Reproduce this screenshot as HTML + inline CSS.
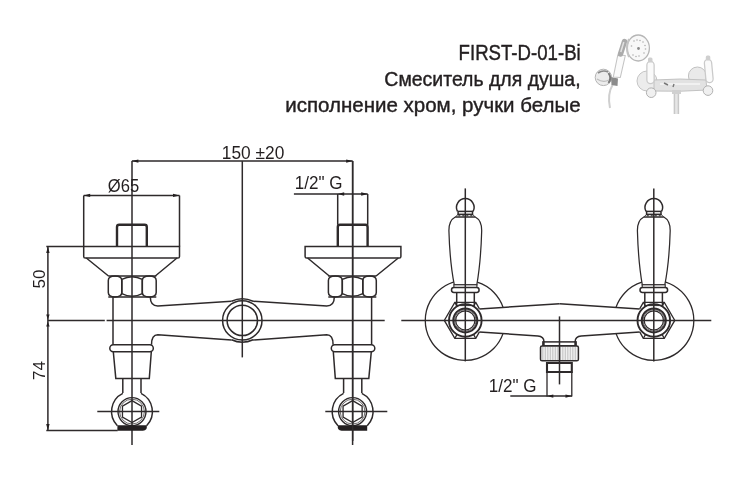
<!DOCTYPE html>
<html><head><meta charset="utf-8">
<style>
html,body{margin:0;padding:0;background:#fff;width:750px;height:500px;overflow:hidden}
svg{display:block;will-change:transform}
text{font-family:"Liberation Sans",sans-serif;fill:#231f20}
</style></head>
<body>
<svg width="750" height="500" viewBox="0 0 750 500">
<defs>
<filter id="blur" x="-10%" y="-10%" width="120%" height="120%"><feGaussianBlur stdDeviation="0.6"/></filter>
<g id="tapL">
 <path d="M116.7,246 V226.6 Q116.7,224.4 118.9,224.4 H144.3 Q146.5,224.4 146.5,226.6 V246" stroke-width="2.4"/>
 <path d="M83.4,246 H179.2 V256 Q179.2,257.6 177.6,257.6 H85 Q83.4,257.6 83.4,256 Z"/>
 <path d="M86,257.6 L108.2,275.6 M176.7,257.6 L155,275.6"/>
 <path d="M108,275.6 H156 M108,296.6 H156"/>
 <path d="M108,280 Q108,275.6 114.7,275.6 Q121.5,275.6 121.5,280 V292.2 Q121.5,296.6 114.7,296.6 Q108,296.6 108,292.2 Z"/>
 <path d="M121.5,279 Q131.8,273.8 142,279 V293.2 Q131.8,298.4 121.5,293.2 Z"/>
 <path d="M142,280 Q142,275.6 149,275.6 Q155.9,275.6 155.9,280 V292.2 Q155.9,296.6 149,296.6 Q142,296.6 142,292.2 Z"/>
 <path d="M112.7,296.6 V344.3"/>
 <path d="M150,296.6 Q150,305.5 157.5,305.5 L231.2,300.8"/>
 <path d="M151.2,344.3 Q151.2,334.4 157.5,334.4 L231.2,339.6"/>
 <rect x="109.5" y="344.3" width="43.5" height="7.1" rx="3.5"/>
 <path d="M113,351.4 L115.5,378 H149 L151,351.4"/>
 <path d="M122.5,378 V392.6 M140.7,378 V392.6"/>
 <path d="M122.5,392.9 A20.3,20.3 0 0 0 117.1,425.3 M146.3,425.3 A20.3,20.3 0 0 0 140.7,392.9"/>
 <circle cx="131.7" cy="411.2" r="14" stroke-width="1.4"/>
 <circle cx="131.7" cy="411.2" r="12.4" stroke-width="0.7"/>
 <path d="M131.70,400.20 L141.23,405.70 L141.23,416.70 L131.70,422.20 L122.17,416.70 L122.17,405.70 Z" stroke-width="1.3"/>
 <path d="M97,411.2 H159 M131.7,160.7 V444.5"/>
 <path d="M117.1,424.8 H146.5 V427.5 Q146,430.4 140,430.4 H117.1 Z" fill="#231f20" stroke="none"/>
</g>
<g id="handleL">
 <path d="M502.8,307 A40,40 0 1 0 502.8,333" stroke-width="1.3"/>
 <path d="M457.2,211 A8.8,8.8 0 1 1 472.8,211"/>
 <rect x="457.8" y="211" width="14.4" height="3"/>
 <path d="M457.8,214 H472.2 L475,216.6 H455 Z" stroke-width="0.9"/>
 <path d="M458,215.3 h2 M462,215.3 h2 M466,215.3 h2 M470,215.3 h2" stroke-width="1.4" stroke="#555"/>
 <path d="M455,216.6 C450.5,219 448.6,224 448.6,230 Q449.5,262 454,284.4 H476.5 Q480.5,262 481.4,230 C481.4,224 479.5,219 475,216.6 Z" fill="#fff" stroke-width="1.25"/>
 <rect x="453.6" y="284.4" width="23" height="2.8" fill="#fff" stroke-width="1.1"/>
 <rect x="451.2" y="287.2" width="27.6" height="4.8" rx="2.4" fill="#fff"/>
 <path d="M456.4,292 V305.2 M474,292 V305.2"/>
 <path d="M465,188 V361"/>
 <path d="M479.1,308.5 L475.5,302 H454.5 L444,320 L454.5,338 H475.5 L479.1,331.5" stroke-width="1.3"/>
 <path d="M455.5,305.2 H474.5" stroke-width="1"/>
 <circle cx="465" cy="320" r="16.3" stroke-width="1.9"/>
 <path d="M454.8,302.5 L456.8,306 M475.2,302.5 L473.2,306 M454.8,337.5 L456.8,334 M475.2,337.5 L473.2,334" stroke-width="1.2"/>
 <circle cx="465" cy="320" r="12" stroke-width="2"/>
 <circle cx="465" cy="320" r="10.8" stroke-width="0.7"/>
 <circle cx="465" cy="320" r="9.6" stroke-width="1.2"/>
 <path d="M479.1,308.5 L559.25,303.3"/>
 <path d="M479.1,331.5 L537.6,335.6 Q543.7,336 543.7,341.5"/>
</g>
</defs>

<!-- title text -->
<g stroke="#231f20" stroke-width="0.42">
<text transform="translate(580.7,59.6) scale(0.855,1)" font-size="21.8" text-anchor="end">FIRST-D-01-Bi</text>
<text transform="translate(580.6,85.7) scale(0.95,1)" font-size="20.5" text-anchor="end">Смеситель для душа,</text>
<text transform="translate(580.6,111.6) scale(1.0,1)" font-size="20.5" text-anchor="end">исполнение хром, ручки белые</text>
</g>

<!-- photo -->
<g filter="url(#blur)">
 <path d="M613,84 Q607,94 610,108" fill="none" stroke="#cfcfcf" stroke-width="2"/>
 <circle cx="603.4" cy="77.4" r="8.2" fill="#ececec" stroke="#b4b4b4" stroke-width="1"/>
 <path d="M598,73 Q603,69.5 608,72" fill="none" stroke="#8a8a8a" stroke-width="1.6"/>
 <path d="M608.5,73 Q612,78 608.5,83" fill="none" stroke="#7a7a7a" stroke-width="2"/>
 <path d="M597,79 Q603,83 609,80" fill="none" stroke="#bdbdbd" stroke-width="1.2"/>
 <path d="M611,77 L618,78.5 L617.5,86 L611.5,85 Z" fill="#8c8c8c"/>
 <path d="M617.8,55 L625.3,55.5 L620.3,77.5 L613.3,77 Z" fill="#fbfbfb" stroke="#c4c4c4" stroke-width="1.1" stroke-linejoin="round"/>
 <path d="M624.5,41.5 L620.5,54" stroke="#ababab" stroke-width="5.5" stroke-linecap="round"/>
 <path d="M623.8,42 L620.8,52" stroke="#e2e2e2" stroke-width="1.5"/>
 <ellipse cx="638.2" cy="48" rx="11.2" ry="13" fill="#f8f8f8" stroke="#b6b6b6" stroke-width="1.3"/>
 <path d="M629,39 Q625,48 629,57" fill="none" stroke="#c4c4c4" stroke-width="2"/>
 <g fill="#b0b0b0">
  <circle cx="634" cy="41" r="0.8"/><circle cx="637" cy="40" r="0.8"/><circle cx="640" cy="40.5" r="0.8"/><circle cx="643" cy="42" r="0.8"/>
  <circle cx="645" cy="45.5" r="0.8"/><circle cx="645.5" cy="49" r="0.8"/><circle cx="644" cy="53" r="0.8"/>
  <circle cx="633" cy="55" r="0.8"/><circle cx="636" cy="56.5" r="0.8"/><circle cx="639" cy="56" r="0.8"/>
  <circle cx="631.5" cy="46" r="0.8"/>
 </g>
 <circle cx="638.5" cy="48.5" r="1.4" fill="#8a8a8a"/>
 <circle cx="647" cy="81" r="10" fill="#ececec" stroke="#c4c4c4" stroke-width="1"/>
 <circle cx="697.4" cy="76" r="9" fill="#eaeaea" stroke="#c0c0c0" stroke-width="1"/>
 <path d="M654,80 Q680,78 706,80 L707,90 Q680,92 654,91 Z" fill="#e2e2e2" stroke="#bdbdbd" stroke-width="0.9"/>
 <path d="M660,84 H700" stroke="#f6f6f6" stroke-width="1.5"/>
 <path d="M664,83 l4,2 M674,84 l-1,3" stroke="#777" stroke-width="1.4"/>
 <path d="M676.4,93 V114" stroke="#c8c8c8" stroke-width="5.5"/>
 <path d="M676.4,93 V114" stroke="#e6e6e6" stroke-width="2.5"/>
 <rect x="672" y="90" width="9" height="4" fill="#d0d0d0"/>
 <circle cx="651.2" cy="92.7" r="4.8" fill="#f0f0f0" stroke="#b0b0b0" stroke-width="1"/>
 <circle cx="708" cy="90.6" r="4.8" fill="#f0f0f0" stroke="#b0b0b0" stroke-width="1"/>
 <path d="M650.5,65 L650.5,80" stroke="#cacaca" stroke-width="8.5" stroke-linecap="round"/>
 <path d="M650.5,65 L650.5,80" stroke="#fafafa" stroke-width="6" stroke-linecap="round"/>
 <rect x="648" y="57.5" width="4.5" height="5" rx="1.5" fill="#cfcfcf"/>
 <path d="M708,63 L709.5,79" stroke="#cacaca" stroke-width="8.5" stroke-linecap="round"/>
 <path d="M708,63 L709.5,79" stroke="#fafafa" stroke-width="6" stroke-linecap="round"/>
 <rect x="705.8" y="55.5" width="4.5" height="5" rx="1.5" fill="#cfcfcf"/>
</g>

<g transform="translate(0.3,0.4)">
<g fill="none" stroke="#2e2a2b" stroke-width="1.5" stroke-linecap="butt">
 <use href="#tapL"/>
 <use href="#tapL" transform="translate(484,0) scale(-1,1)"/>
 <!-- hub -->
 <circle cx="242" cy="320" r="19.7"/>
 <circle cx="242" cy="320" r="15.2"/>
 <path d="M231.2,300.8 Q242,295.8 252.8,300.8 M231.2,339.4 Q242,344.4 252.8,339.4"/>
 <path d="M242,160.7 V357"/>
 <!-- dims left drawing -->
 <path d="M131.6,160.7 H352.4 M352.4,160.7 V440.5"/>
 <path d="M83.4,195 H179.2 M83.4,195 V246 M179.2,195 V246"/>
 <path d="M293.6,193.6 H367.4 M337.4,193.6 V224.4 M367.4,193.6 V224.4"/>
 <path d="M46,246 H83.4 M47.6,246 V430 M46,430 H117.4"/>
 <path d="M47.6,320 H104.5 M106.3,320 H384.4"/>
 <!-- right drawing -->
 <path d="M401,320 H711"/>
 <use href="#handleL"/>
 <use href="#handleL" transform="translate(1118.5,0) scale(-1,1)"/>
 <rect x="542.7" y="341.5" width="33" height="3.9"/>
 <path d="M543.3,341 V345.5 M575.1,341 V345.5" stroke-width="2.2"/>
 <rect x="540.2" y="345.6" width="37.9" height="14.8" fill="#f0f0f0" stroke="none"/>
 <path d="M542.5,346.5 V359.5 M545.0,346.5 V359.5 M547.5,346.5 V359.5 M550.0,346.5 V359.5 M552.5,346.5 V359.5 M555.0,346.5 V359.5 M557.5,346.5 V359.5 M560.0,346.5 V359.5 M562.5,346.5 V359.5 M565.0,346.5 V359.5 M567.5,346.5 V359.5 M570.0,346.5 V359.5 M572.5,346.5 V359.5 M575.0,346.5 V359.5 " stroke="#c4c4c4" stroke-width="1.1"/>
 <rect x="540.2" y="345.6" width="37.9" height="14.8" rx="1.6"/>
 <path d="M546.7,362.6 H571.5 V371.6 H546.7 Z" stroke-width="2.1"/>
 <path d="M546.7,371 V396 M571.5,371 V396" stroke-width="1.3"/>
 <path d="M559.2,316 V384"/>
 <path d="M510,395.7 H571.7"/>
</g>
<!-- arrowheads -->
<g fill="#231f20">
 <path d="M131.6,160.7 l6.5,-1.7 v3.4 z"/>
 <path d="M352.4,160.7 l-6.5,-1.7 v3.4 z"/>
 <path d="M83.4,195 l6.5,-1.7 v3.4 z"/>
 <path d="M179.2,195 l-6.5,-1.7 v3.4 z"/>
 <path d="M337.4,193.6 l6.5,-1.7 v3.4 z"/>
 <path d="M367.4,193.6 l-6.5,-1.7 v3.4 z"/>
 <path d="M47.6,246 l-1.7,6.5 h3.4 z"/>
 <path d="M47.6,319 l-1.7,-5 h3.4 z"/>
 <path d="M47.6,321 l-1.7,5 h3.4 z"/>
 <path d="M47.6,430 l-1.7,-6.5 h3.4 z"/>
 <path d="M546.5,395.7 l6.5,-1.7 v3.4 z"/>
 <path d="M571.7,395.7 l-6.5,-1.7 v3.4 z"/>
</g>
<!-- dim texts -->
<text transform="translate(221.5,158.6) scale(0.99,1)" font-size="17.5">150 ±20</text>
<text transform="translate(107.5,192) scale(0.95,1)" font-size="17.5">Ø65</text>
<text transform="translate(294.5,188.6) scale(0.975,1)" font-size="17.5">1/2" G</text>
<text transform="translate(488.5,391.2) scale(0.975,1)" font-size="17.5">1/2" G</text>
<text transform="translate(44.6,288) rotate(-90)" font-size="17">50</text>
<text transform="translate(44.6,379.5) rotate(-90)" font-size="17">74</text>
</g>
</svg>
</body></html>
